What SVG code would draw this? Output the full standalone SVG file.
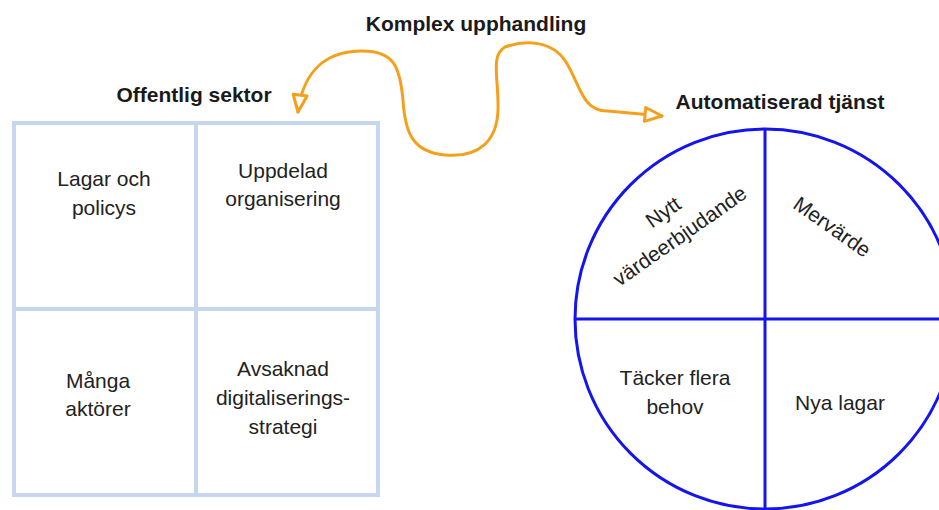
<svg xmlns="http://www.w3.org/2000/svg" width="939" height="510" viewBox="0 0 939 510">
<style>
.title{font-family:"Liberation Sans",Arial,sans-serif;font-weight:bold;font-size:21px;fill:#1a1a1a;text-anchor:middle}
.cell{font-family:"Liberation Sans",Arial,sans-serif;font-size:21px;fill:#222;text-anchor:middle}
.grid{fill:none;stroke:#c7d6ef;stroke-width:4}
.ring{fill:#fff;stroke:#1414ee;stroke-width:3}
.div{stroke:#1414ee;stroke-width:3}
.squig{fill:none;stroke:#f5a01c;stroke-width:3;stroke-linecap:round}
</style>
<defs>
<marker id="oarrow" markerUnits="userSpaceOnUse" markerWidth="22" markerHeight="18" viewBox="0 0 22 18" refX="19" refY="9" orient="auto-start-reverse">
<path d="M2,2 L19,9 L2,16 Z" fill="#fff" stroke="#f5a01c" stroke-width="3" stroke-linejoin="round"/>
</marker>
</defs>
<rect width="939" height="510" fill="#fff"/>

<g id="title-komplex"><text class="title" x="476" y="31">Komplex upphandling</text></g>

<g id="offentlig-sektor">
<text class="title" x="194" y="102">Offentlig sektor</text>
<rect class="grid" x="14" y="123" width="364" height="372"/>
<line class="grid" x1="196" y1="123" x2="196" y2="495"/>
<line class="grid" x1="14" y1="309" x2="378" y2="309"/>
<g id="cell-lagar"><text class="cell" x="104" y="186">Lagar och</text><text class="cell" x="104" y="215">policys</text></g>
<g id="cell-uppdelad"><text class="cell" x="283" y="178">Uppdelad</text><text class="cell" x="283" y="206">organisering</text></g>
<g id="cell-manga"><text class="cell" x="98" y="388">Många</text><text class="cell" x="98" y="416">aktörer</text></g>
<g id="cell-avsaknad"><text class="cell" x="283" y="376">Avsaknad</text><text class="cell" x="283" y="405">digitaliserings-</text><text class="cell" x="283" y="434">strategi</text></g>
</g>

<g id="automatiserad-tjanst">
<text class="title" x="780" y="109">Automatiserad tjänst</text>
<circle class="ring" cx="765" cy="319" r="190"/>
<line class="div" x1="765" y1="129" x2="765" y2="510"/>
<line class="div" x1="575" y1="319" x2="955" y2="319"/>
<g id="q-nytt" transform="translate(677,232) rotate(-35)"><text class="cell" x="0" y="-17">Nytt</text><text class="cell" x="0" y="12">värdeerbjudande</text></g>
<g id="q-mervarde" transform="translate(832,227) rotate(35)"><text class="cell" x="0" y="7">Mervärde</text></g>
<g id="q-tacker"><text class="cell" x="675" y="385">Täcker flera</text><text class="cell" x="675" y="414">behov</text></g>
<g id="q-nya"><text class="cell" x="840" y="410">Nya lagar</text></g>
</g>

<g id="connectors">
<path class="squig" marker-start="url(#oarrow)" marker-end="url(#oarrow)" d="M298,112 C302,80 318,52 360,51 C395,50 400,68 403,100 C405,132 412,152 445,155 C480,158 497,140 498,110 C499,80 490,55 505,47 C525,40 552,40 566,62 C580,84 582,112 608,111 L662,116"/>
</g>
</svg>
